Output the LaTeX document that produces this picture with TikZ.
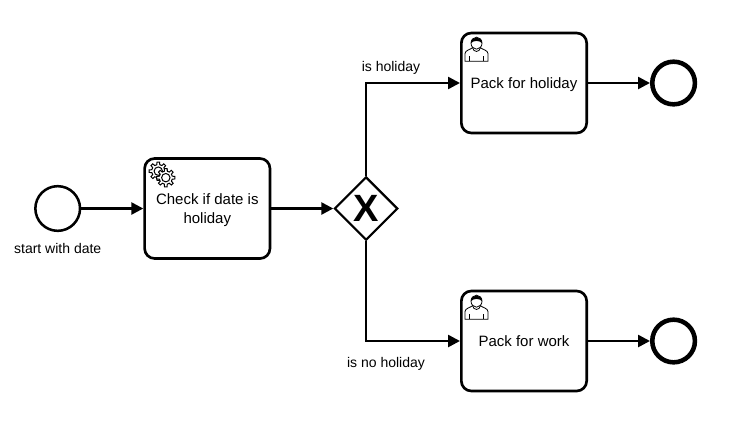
\documentclass[tikz,border=0pt]{standalone}
\usepackage{fontspec}
\setmainfont{Liberation Sans}
\usetikzlibrary{positioning,arrows.meta,shapes.geometric}

\tikzset{
    gear/.pic={
        \draw[fill=white, line width=0.75pt] (-13:6.6)
            \foreach \a in {0,45,...,315}{
                -- (\a-8:9.2) -- (\a+8:9.2) -- (\a+13:6.6) -- (\a+32:6.6)
            } -- cycle;
        \draw[fill=white, line width=0.75pt] (0,0) circle (4.2);
    },
    person/.pic={
        \draw[fill=white, line width=0.6pt] (-11.5,18.5) -- (-11.5,11) .. controls (-11.5,7.5) and (-6,7) .. (-4,5)
            -- (4,5) .. controls (6,7) and (11.5,7.5) .. (11.5,11) -- (11.5,18.5) -- cycle;
        \draw[line width=0.5pt] (-7,18.5) -- (-7,13) (7,18.5) -- (7,13);
        \draw[fill=white, line width=0.6pt] (-4,5) .. controls (-3,10) and (3,10) .. (4,5);
        \draw[fill=white, line width=0.6pt] (0,0.5) ellipse (5.5 and 6);
        \fill (-5.5,0.5) .. controls (-6,-7) and (6,-7) .. (5.5,0.5) .. controls (3,-2.5) and (-3,-2.5) .. (-5.5,0.5) -- cycle;
    },
}

\begin{document}
\begin{tikzpicture}[
    x=0.75pt, y=-0.75pt,
    node distance=46.5pt,
    startevent/.style={circle, draw, line width=1.9pt, inner sep=0pt, minimum size=33.5pt},
    endevent/.style={circle, draw, line width=3.4pt, inner sep=0pt, minimum size=32pt},
    task/.style={rectangle, draw, rounded corners=7.5pt, line width=2pt, inner sep=0pt, minimum width=94pt, minimum height=75pt, align=center, text depth=0pt, font=\fontsize{11.25}{14.25}\selectfont},
    gateway/.style={diamond, draw, line width=1.6pt, inner sep=0pt, aspect=1, minimum width=47.5pt, minimum height=47.5pt, font=\fontsize{28.5}{28.5}\selectfont\bfseries},
    flow/.style={line width=1.9pt, -{Triangle[length=9pt, width=9pt]}},
    lbl/.style={font=\fontsize{10.5}{13}\selectfont, inner sep=0pt},
]

\useasboundingbox (0,0) rectangle (739,429);

\node[startevent] (start) at (57.7,208.5) {};
\node[task, right=of start] (check) {Check if date is\\holiday};
\node[gateway, right=of check] (gw) {X};
\node[task] (holiday) at (524,83) {Pack for holiday};
\node[task] (work) at (524,341) {Pack for work};
\node[endevent, right=of holiday] (endh) {};
\node[endevent, right=of work] (endw) {};

% Labels
\node[lbl, below=8.5pt of start] (lblstart) {start with date};
\node[lbl] (lblh) at (391,68) {is holiday};
\node[lbl] (lblw) at (386,364) {is no holiday};

% Icons
\pic at ([shift={(15,14)}]check.north west) {gear};
\pic at ([shift={(22.5,20.5)}]check.north west) {gear};
\pic at ([shift={(16.5,11)}]holiday.north west) {person};
\pic at ([shift={(16.5,11)}]work.north west) {person};

\draw[flow] (start) -- (check);
\draw[flow] (check) -- (gw);
\draw[flow] (gw.north) |- (holiday.west);
\draw[flow] (gw.south) |- (work.west);
\draw[flow] (holiday) -- (endh);
\draw[flow] (work) -- (endw);

\end{tikzpicture}
\end{document}
